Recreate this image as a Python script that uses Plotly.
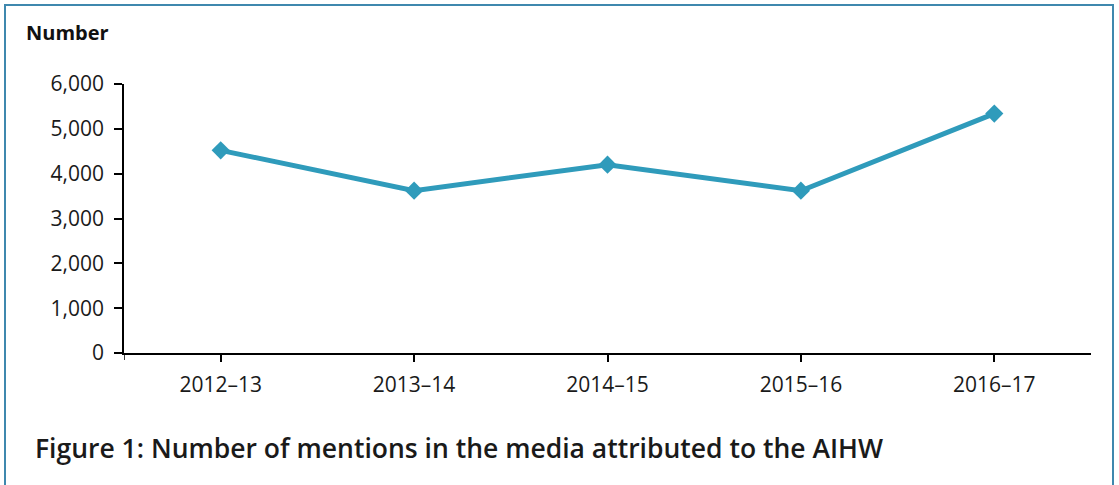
import plotly.graph_objects as go

categories = ["2012–13", "2013–14", "2014–15", "2015–16", "2016–17"]
mentions = [4520, 3620, 4200, 3620, 5340]
y_ticks = [0, 1000, 2000, 3000, 4000, 5000, 6000]

W, H = 1119, 485
L, R, T, B = 124, 28, 84, 132
pw, ph = W - L - R, H - T - B

def px(x):
    return (x - L) / pw

def py(y):
    return (H - B - y) / ph

line_color = "#2f9bbb"
font_family = "Open Sans, Noto Sans, sans-serif"

fig = go.Figure()
fig.add_trace(go.Scatter(
    x=categories, y=mentions, mode="lines+markers",
    line=dict(color=line_color, width=5),
    marker=dict(symbol="diamond", size=14, color=line_color),
    showlegend=False, hoverinfo="x+y",
))

fig.update_layout(
    width=W, height=H,
    margin=dict(l=L, r=R, t=T, b=B),
    paper_bgcolor="white", plot_bgcolor="white",
    font=dict(family=font_family, color="#1a1a1a", size=21),
    xaxis=dict(
        type="category", range=[-0.5, 4.5],
        showline=True, linecolor="black", linewidth=1.5,
        ticks="outside", ticklen=7, tickwidth=1.5, tickcolor="black",
        showgrid=False, zeroline=False,
        tickfont=dict(size=21, color="#1a1a1a"),
        ticklabelstandoff=5,
    ),
    yaxis=dict(
        range=[0, 6000], tickvals=y_ticks, tickformat=",",
        showline=True, linecolor="black", linewidth=1.5,
        ticks="outside", ticklen=8, tickwidth=1.5, tickcolor="black",
        showgrid=False, zeroline=False,
        tickfont=dict(size=21, color="#1a1a1a"),
        ticklabelstandoff=6,
    ),
    shapes=[
        dict(type="rect", xref="paper", yref="paper",
             x0=px(5), x1=px(1113), y0=py(5), y1=py(500),
             line=dict(color="#3f88ae", width=2), fillcolor="rgba(0,0,0,0)",
             layer="below"),
        dict(type="line", xref="x", yref="y domain",
             x0=-0.5, x1=-0.5, y0=0, y1=-0.026,
             line=dict(color="black", width=1.5)),
    ],
    annotations=[
        dict(text="<b>Number</b>", xref="paper", yref="paper",
             x=px(24), y=py(33), xanchor="left", yanchor="middle",
             showarrow=False, font=dict(size=20, color="#111111")),
        dict(text="Figure 1: Number of mentions in the media attributed to the AIHW",
             xref="paper", yref="paper",
             x=px(33), y=py(448), xanchor="left", yanchor="middle",
             showarrow=False,
             font=dict(size=26.5, color="#1a1a1a", weight=600)),
    ],
)

fig.write_html("out.html")
